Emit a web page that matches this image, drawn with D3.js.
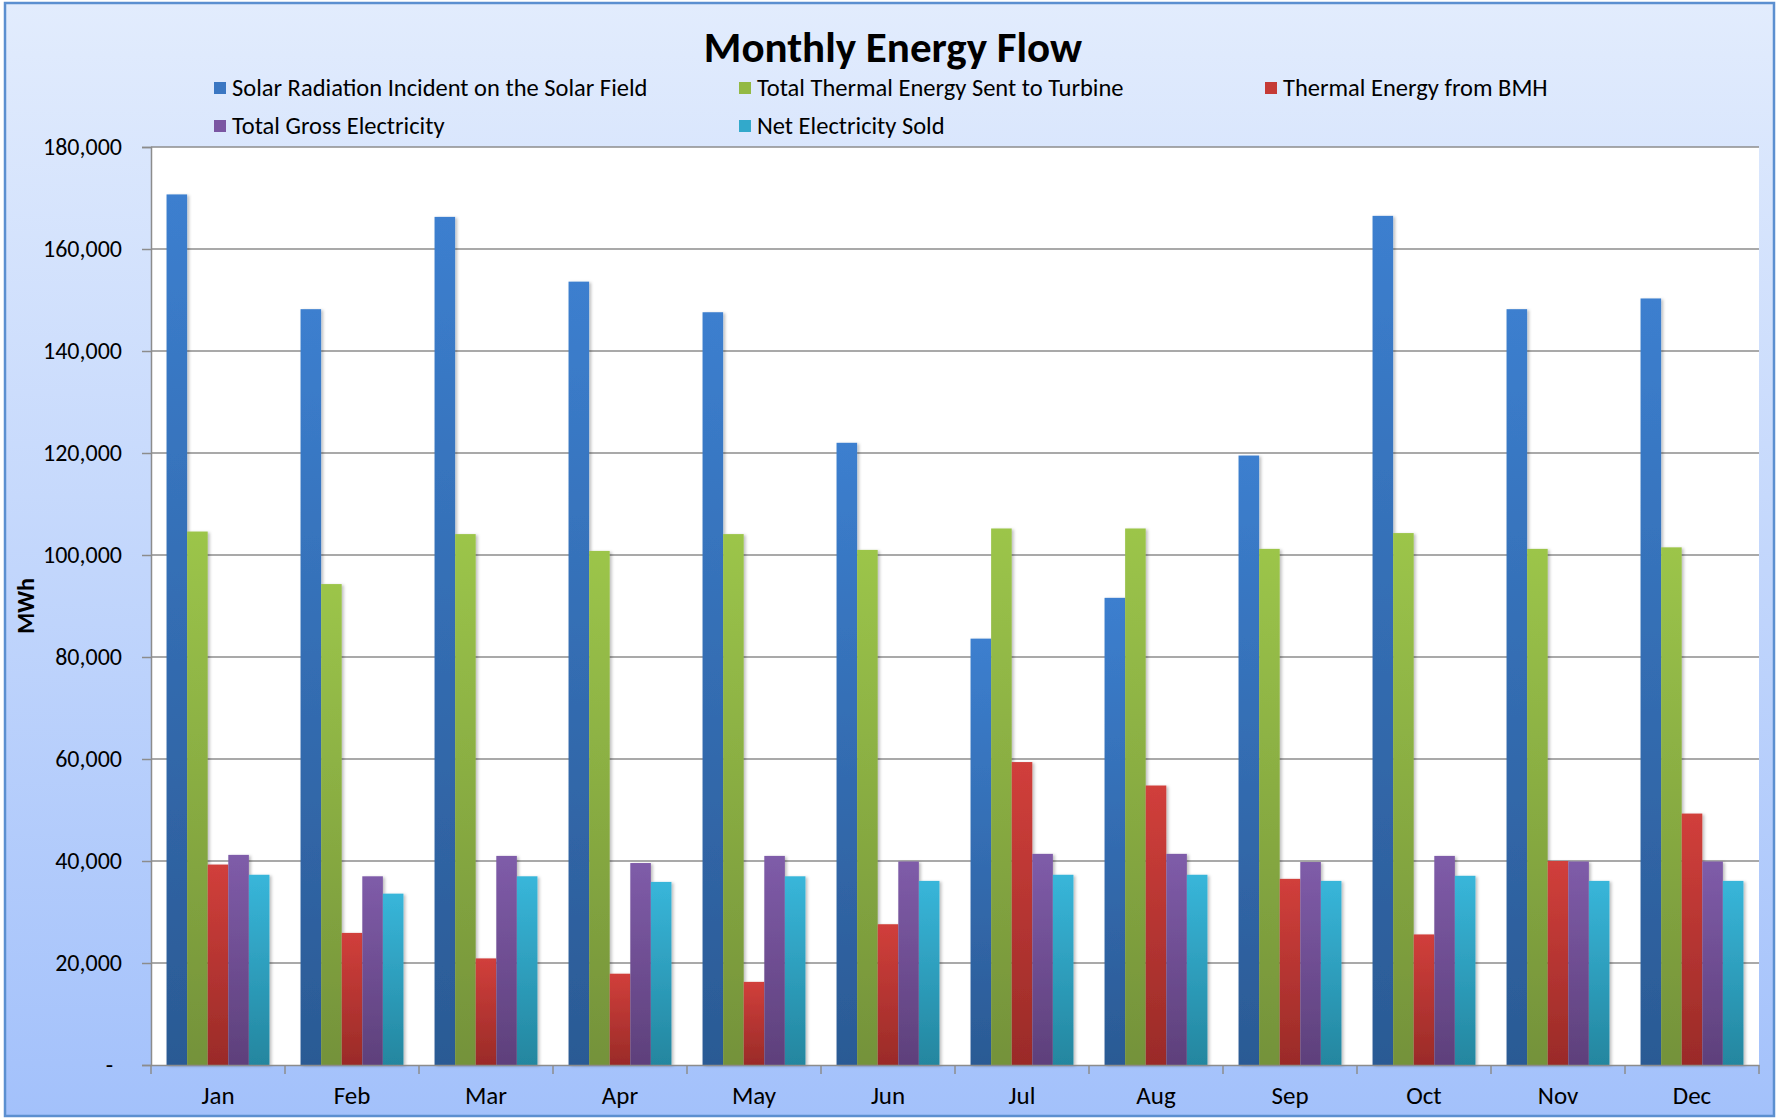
<!DOCTYPE html>
<html>
<head>
<meta charset="utf-8">
<script src="https://cdn.jsdelivr.net/npm/d3@7"></script>
<style>
  html, body { margin: 0; padding: 0; background: #fff; }
  svg { display: block; font-family: Carlito, Calibri, Lato, sans-serif; }
</style>
</head>
<body>
<svg id="chart" width="1777" height="1120"></svg>
<script>
// data
const months = ["Jan", "Feb", "Mar", "Apr", "May", "Jun", "Jul", "Aug", "Sep", "Oct", "Nov", "Dec"];
const seriesNames = [
  "Solar Radiation Incident on the Solar Field",
  "Total Thermal Energy Sent to Turbine",
  "Thermal Energy from BMH",
  "Total Gross Electricity",
  "Net Electricity Sold"
];
const solarRadiation = [170700, 148200, 166300, 153600, 147600, 122000, 83600, 91600, 119500, 166500, 148200, 150300];
const thermalToTurbine = [104600, 94300, 104100, 100800, 104100, 101000, 105200, 105200, 101200, 104300, 101200, 101500];
const thermalFromBMH = [39300, 25900, 20900, 17900, 16300, 27600, 59400, 54800, 36500, 25600, 40000, 49300];
const grossElectricity = [41200, 37000, 41000, 39600, 41000, 39900, 41400, 41400, 39800, 41000, 39900, 39900];
const netElectricity = [37300, 33600, 37000, 35900, 37000, 36100, 37300, 37300, 36100, 37100, 36100, 36100];
const yTicks = [0, 20000, 40000, 60000, 80000, 100000, 120000, 140000, 160000, 180000];

const allSeries = [solarRadiation, thermalToTurbine, thermalFromBMH, grossElectricity, netElectricity];
const colorsTop = ["#3c7fcf", "#9cc54a", "#d13f3b", "#7f5ca9", "#38b6da"];
const colorsBottom = ["#2b5a94", "#74923a", "#9a2b28", "#5e407b", "#24869f"];
const legendColors = ["#3a76c2", "#93b944", "#c53a36", "#7a56a2", "#32a9cb"];

const W = 1777, H = 1120;
const plot = { left: 151, top: 147, right: 1759, bottom: 1065 };
const FONT = "Carlito, Calibri, Lato, sans-serif";

const svg = d3.select("#chart");
const defs = svg.append("defs");

const bg = defs.append("linearGradient").attr("id", "bg")
  .attr("x1", 0).attr("y1", 0).attr("x2", 0).attr("y2", 1);
bg.append("stop").attr("offset", "0%").attr("stop-color", "#e2ecfd");
bg.append("stop").attr("offset", "100%").attr("stop-color", "#a3c1fb");

colorsTop.forEach(function (c, i) {
  const g = defs.append("linearGradient").attr("id", "bar" + i)
    .attr("x1", 0).attr("y1", 0).attr("x2", 0).attr("y2", 1);
  g.append("stop").attr("offset", "0%").attr("stop-color", c);
  g.append("stop").attr("offset", "100%").attr("stop-color", colorsBottom[i]);
});

const shadow = defs.append("filter").attr("id", "shadow")
  .attr("x", "-20%").attr("y", "-5%").attr("width", "160%").attr("height", "110%");
shadow.append("feDropShadow").attr("dx", 2).attr("dy", 1).attr("stdDeviation", 1.5)
  .attr("flood-color", "#000").attr("flood-opacity", 0.25);

// background + frame
svg.append("rect").attr("x", 5).attr("y", 3).attr("width", W - 8).attr("height", H - 7)
  .attr("fill", "url(#bg)").attr("stroke", "#5b8fd0").attr("stroke-width", 2.5);

svg.append("rect")
  .attr("x", plot.left).attr("y", plot.top)
  .attr("width", plot.right - plot.left).attr("height", plot.bottom - plot.top)
  .attr("fill", "#fff");

// scales
const y = d3.scaleLinear().domain([0, 180000]).range([plot.bottom, plot.top]);
const x0 = d3.scaleBand().domain(months).range([plot.left, plot.right])
  .paddingInner(0.232).paddingOuter(0.116);
const x1 = d3.scaleBand().domain(d3.range(seriesNames.length)).range([0, x0.bandwidth()]);
const xCat = d3.scaleBand().domain(months).range([plot.left, plot.right]);

// gridlines
svg.append("g").selectAll("line")
  .data(yTicks.filter(function (d) { return d > 0; }))
  .enter().append("line")
  .attr("x1", plot.left).attr("x2", plot.right)
  .attr("y1", function (d) { return y(d); }).attr("y2", function (d) { return y(d); })
  .attr("stroke", "#8c8c8c").attr("stroke-width", 1.5);

// bars
const group = svg.append("g").selectAll("g")
  .data(months)
  .enter().append("g")
  .attr("transform", function (d) { return "translate(" + x0(d) + ",0)"; });

group.selectAll("rect")
  .data(function (m, mi) {
    return allSeries.map(function (s, si) { return { si: si, v: s[mi] }; });
  })
  .enter().append("rect")
  .attr("x", function (d) { return x1(d.si); })
  .attr("y", function (d) { return y(d.v); })
  .attr("width", x1.bandwidth())
  .attr("height", function (d) { return plot.bottom - y(d.v); })
  .attr("fill", function (d) { return "url(#bar" + d.si + ")"; })
  .attr("filter", "url(#shadow)");

// y axis
const yAxis = svg.append("g")
  .attr("transform", "translate(" + plot.left + ",0)")
  .call(d3.axisLeft(y).tickValues(yTicks).tickSize(9).tickPadding(20)
    .tickFormat(function (d) { return d === 0 ? "-" : d3.format(",")(d); }));
yAxis.select(".domain").attr("stroke", "#8c8c8c").attr("stroke-width", 1.5);
yAxis.selectAll(".tick line").attr("stroke", "#8c8c8c").attr("stroke-width", 1.5);
yAxis.selectAll(".tick text")
  .attr("font-family", FONT)
  .attr("font-size", 24).attr("fill", "#000");
yAxis.selectAll(".tick text").filter(function (d) { return d === 0; })
  .attr("dx", -9);

// x axis
const xAxis = svg.append("g")
  .attr("transform", "translate(0," + plot.bottom + ")")
  .call(d3.axisBottom(xCat).tickSize(0).tickPadding(21));
xAxis.select(".domain").attr("stroke", "#8c8c8c").attr("stroke-width", 1.5);
xAxis.selectAll(".tick text")
  .attr("font-family", FONT)
  .attr("font-size", 25).attr("fill", "#000");
xAxis.append("g").selectAll("line")
  .data(months.map(function (m) { return xCat(m); }).concat([plot.right]))
  .enter().append("line")
  .attr("x1", function (d) { return d; }).attr("x2", function (d) { return d; })
  .attr("y1", 0).attr("y2", 9)
  .attr("stroke", "#8c8c8c").attr("stroke-width", 1.5);

// axis title
svg.append("text")
  .attr("transform", "translate(34,606) rotate(-90)")
  .attr("text-anchor", "middle")
  .attr("font-size", 24).attr("font-weight", "bold")
  .text("MWh");

// title
svg.append("text")
  .attr("x", 893).attr("y", 62)
  .attr("text-anchor", "middle")
  .attr("font-size", 43).attr("font-weight", "bold")
  .text("Monthly Energy Flow");

// legend
const legendPos = [[214, 88], [739, 88], [1265, 88], [214, 126], [739, 126]];
const legend = svg.append("g").selectAll("g")
  .data(seriesNames)
  .enter().append("g")
  .attr("transform", function (d, i) { return "translate(" + legendPos[i][0] + "," + legendPos[i][1] + ")"; });
legend.append("rect")
  .attr("x", 0).attr("y", -6).attr("width", 12).attr("height", 12)
  .attr("fill", function (d, i) { return legendColors[i]; });
legend.append("text")
  .attr("x", 18).attr("y", 8)
  .attr("font-size", 24.5)
  .text(function (d) { return d; });
</script>
</body>
</html>
